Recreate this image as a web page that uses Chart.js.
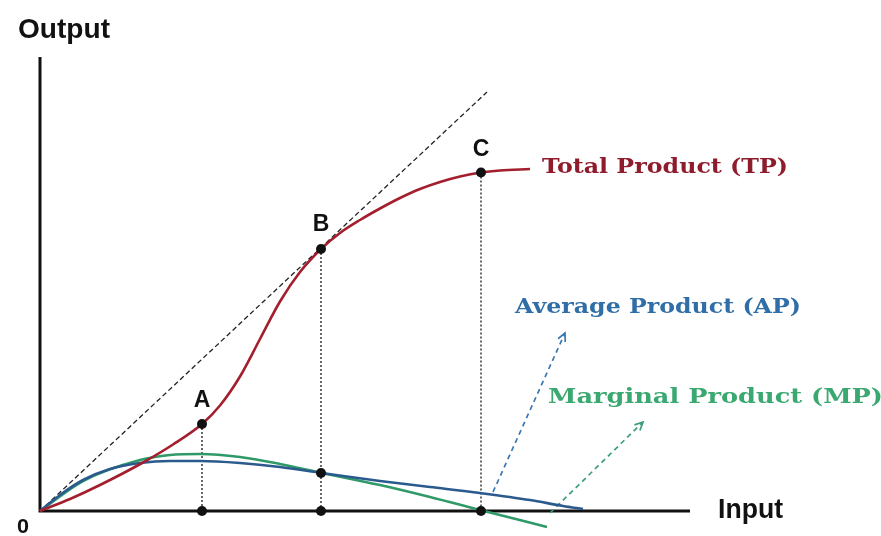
<!DOCTYPE html>
<html>
<head>
<meta charset="utf-8">
<script src="https://cdn.jsdelivr.net/npm/chart.js@4/dist/chart.umd.min.js"></script>
<style>
html,body{margin:0;padding:0;background:#fff;}
#wrap{width:881px;height:536px;position:relative;}
</style>
</head>
<body>
<div id="wrap"><canvas id="c"></canvas></div>
<script>
// ---- data (input units on x, output units on y) ----
const tpX = [0, 3, 6, 10.3, 13.3, 16.2, 18, 20, 22, 24, 26, 28.1, 30, 32, 34, 36, 38, 40, 42, 44.1, 46, 49];
const tpY = [0, 1.2, 2.6, 4.85, 6.65, 8.7, 10.55, 13.45, 17.2, 20.95, 23.9, 26.2, 27.8, 29.1, 30.25, 31.3, 32.2, 32.9, 33.45, 33.85, 34.05, 34.2];
const apX = [0, 2, 4.3, 7, 10, 13, 16, 20, 24, 28.2, 34, 39, 44, 49, 52.3, 54.3];
const apY = [0, 1.6, 3.1, 4.2, 4.8, 5.0, 5.0, 4.8, 4.4, 3.8, 3.0, 2.4, 1.8, 1.1, 0.5, 0.2];
const mpX = [0, 4.3, 10, 13, 16, 20, 24, 28.2, 34, 39, 44, 50.7];
const mpY = [0, 3.0, 5.1, 5.6, 5.7, 5.4, 4.7, 3.8, 2.6, 1.4, 0.1, -1.6];
const rayX = [0, 44.7];
const rayY = [0, 41.9];
const pointLabels = ["A", "B", "C"];
const keyX = [16.2, 28.1, 44.1];
const keyY = [8.7, 26.2, 33.85];
const crossX = [28.1];
const crossY = [3.8];
const apArrowX = [45.3, 52.5];
const apArrowY = [1.9, 17.8];
const mpArrowX = [51, 60.3];
const mpArrowY = [-0.2, 8.9];
const axisX = [0, 0, 65];
const axisY = [45.4, 0, 0];
const seriesNames = ["Total Product (TP)", "Average Product (AP)", "Marginal Product (MP)"];
const axisTitles = ["Output", "Input", "0"];

const zip = (xs, ys) => xs.map((x, i) => ({x: x, y: ys[i]}));

const datasets = [];
datasets.push({label: seriesNames[0], data: zip(tpX, tpY), borderColor: '#a31f2e', borderWidth: 2.6, cubicInterpolationMode: 'monotone', pointRadius: 0, order: 3});
datasets.push({label: seriesNames[1], data: zip(apX, apY), borderColor: '#2b5b8e', borderWidth: 2.6, cubicInterpolationMode: 'monotone', pointRadius: 0, order: 4});
datasets.push({label: seriesNames[2], data: zip(mpX, mpY), borderColor: '#2f9a68', borderWidth: 2.6, cubicInterpolationMode: 'monotone', pointRadius: 0, order: 5});
datasets.push({label: 'ray', data: zip(rayX, rayY), borderColor: '#222', borderWidth: 1.3, borderDash: [5, 3], pointRadius: 0, order: 6});
keyX.forEach((x, i) => {
  datasets.push({label: 'drop' + i, data: [{x: x, y: keyY[i]}, {x: x, y: 0}], borderColor: '#444', borderWidth: 1.6, borderDash: [2, 2], pointRadius: 0, order: 7});
});
datasets.push({label: 'apArrow', data: zip(apArrowX, apArrowY), borderColor: '#3a78b0', borderWidth: 1.7, borderDash: [5, 4], pointRadius: 0, order: 6, arrow: true});
datasets.push({label: 'mpArrow', data: zip(mpArrowX, mpArrowY), borderColor: '#3a9e7c', borderWidth: 1.7, borderDash: [5, 4], pointRadius: 0, order: 6, arrow: true});
datasets.push({label: 'axes', data: zip(axisX, axisY), borderColor: '#111', borderWidth: 3, pointRadius: 0, order: 8});
datasets.push({label: 'points', data: zip(keyX, keyY).concat(keyX.map(x => ({x: x, y: 0}))).concat(zip(crossX, crossY)), showLine: false, pointRadius: 5, pointBackgroundColor: '#111', pointBorderColor: '#111', borderWidth: 0, order: 1});

const labelPlugin = {
  id: 'labels',
  afterDatasetsDraw(chart) {
    const ctx = chart.ctx;
    const xs = chart.scales.x, ys = chart.scales.y;
    const px = v => xs.getPixelForValue(v), py = v => ys.getPixelForValue(v);
    ctx.save();
    // arrowheads
    chart.data.datasets.forEach(ds => {
      if (!ds.arrow) return;
      const d = ds.data, n = d.length;
      const x1 = px(d[n - 2].x), y1 = py(d[n - 2].y), x2 = px(d[n - 1].x), y2 = py(d[n - 1].y);
      const a = Math.atan2(y2 - y1, x2 - x1);
      ctx.strokeStyle = ds.borderColor; ctx.lineWidth = 1.7; ctx.setLineDash([]);
      ctx.beginPath();
      ctx.moveTo(x2 - 9 * Math.cos(a - 0.45), y2 - 9 * Math.sin(a - 0.45));
      ctx.lineTo(x2, y2);
      ctx.lineTo(x2 - 9 * Math.cos(a + 0.45), y2 - 9 * Math.sin(a + 0.45));
      ctx.stroke();
    });
    const fitText = (t, x, y, w) => {
      const m = ctx.measureText(t).width;
      ctx.save(); ctx.translate(x, y); ctx.scale(w / m, 1); ctx.fillText(t, 0, 0); ctx.restore();
    };
    // point letters
    ctx.fillStyle = '#111';
    ctx.textAlign = 'center';
    ctx.textBaseline = 'alphabetic';
    ctx.font = 'bold 23px "Liberation Sans", Arial, sans-serif';
    const letterY = [10.4, 28.0, 35.5];
    pointLabels.forEach((t, i) => ctx.fillText(t, px(keyX[i]), py(letterY[i])));
    // axis titles
    ctx.textAlign = 'left';
    ctx.font = 'bold 28px "Liberation Sans", Arial, sans-serif';
    fitText(axisTitles[0], px(-2.2), py(47.3), 92);
    ctx.font = 'bold 27px "Liberation Sans", Arial, sans-serif';
    fitText(axisTitles[1], px(67.8), py(-0.7), 65);
    ctx.font = 'bold 20px "Liberation Sans", Arial, sans-serif';
    fitText(axisTitles[2], px(-2.3), py(-2.2), 12);
    // series labels (slab serif)
    ctx.font = 'bold 21px "DejaVu Serif", serif';
    ctx.fillStyle = '#8f1c2c';
    fitText(seriesNames[0], px(50.2), py(33.8), 246);
    ctx.fillStyle = '#2f6ea6';
    fitText(seriesNames[1], px(47.5), py(19.8), 286);
    ctx.fillStyle = '#3aa870';
    fitText(seriesNames[2], px(50.8), py(10.8), 335);
    ctx.restore();
  }
};

new Chart(document.getElementById('c'), {
  type: 'line',
  data: {datasets: datasets},
  options: {
    responsive: true,
    maintainAspectRatio: false,
    animation: false,
    layout: {padding: 0, autoPadding: false},
    plugins: {legend: {display: false}, tooltip: {enabled: false}},
    elements: {line: {tension: 0, fill: false}},
    datasets: {line: {clip: false}},
    scales: {
      x: {type: 'linear', min: -4, max: 84.1, display: false},
      y: {type: 'linear', min: -2.5, max: 51.1, display: false}
    }
  },
  plugins: [labelPlugin]
});
</script>
</body>
</html>
